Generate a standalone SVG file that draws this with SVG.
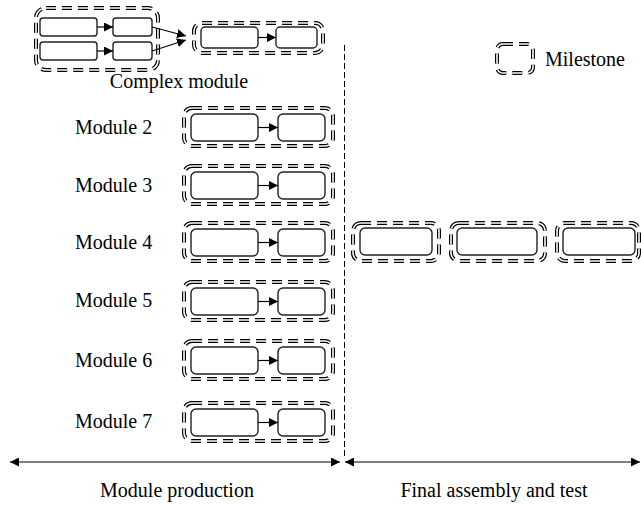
<svg xmlns="http://www.w3.org/2000/svg" width="641" height="505" viewBox="0 0 641 505">
<defs>
<style>
.ms{fill:none;stroke:#000;stroke-width:4;stroke-dasharray:10 6}
.msi{fill:none;stroke:#fff;stroke-width:1.6;stroke-dasharray:10 6}
.task{fill:#fff;stroke:#222;stroke-width:1.4}
.ln{fill:none;stroke:#000;stroke-width:1.2}
.lbl{font-family:"Liberation Serif","Times New Roman",serif;font-size:20px;fill:#000}
</style>
<marker id="ah" viewBox="0 0 10 10" refX="10" refY="5" markerWidth="9" markerHeight="9" markerUnits="userSpaceOnUse" orient="auto"><path d="M0,0 L10,5 L0,10 z" fill="#000"/></marker>
<marker id="ahs" viewBox="0 0 10 10" refX="0" refY="5" markerWidth="9" markerHeight="9" markerUnits="userSpaceOnUse" orient="auto"><path d="M10,0 L0,5 L10,10 z" fill="#000"/></marker>
</defs>
<rect width="641" height="505" fill="#fff"/>

<g id="complex-module">
<rect class="ms" x="36" y="8" width="122" height="62" rx="10"/>
<rect class="msi" x="36" y="8" width="122" height="62" rx="10"/>
<rect class="task" x="40" y="18" width="57" height="18" rx="3"/>
<rect class="task" x="113" y="18" width="39" height="18" rx="3"/>
<rect class="task" x="40" y="42" width="57" height="18" rx="3"/>
<rect class="task" x="113" y="42" width="39" height="18" rx="3"/>
<line class="ln" x1="97" y1="27" x2="113" y2="27" marker-end="url(#ah)"/>
<line class="ln" x1="97" y1="51" x2="113" y2="51" marker-end="url(#ah)"/>
<text class="lbl" x="179" y="88" text-anchor="middle">Complex module</text>
</g>

<g id="complex-final">
<rect class="ms" x="194" y="23" width="129" height="30" rx="8"/>
<rect class="msi" x="194" y="23" width="129" height="30" rx="8"/>
<rect class="task" x="201" y="27" width="57" height="21" rx="4"/>
<rect class="task" x="276" y="27" width="41" height="21" rx="4"/>
<line class="ln" x1="258" y1="37.5" x2="276" y2="37.5" marker-end="url(#ah)"/>
</g>

<g id="module-2">
<text class="lbl" x="75" y="134">Module 2</text>
<rect class="ms" x="184" y="108" width="149" height="38" rx="8"/>
<rect class="msi" x="184" y="108" width="149" height="38" rx="8"/>
<rect class="task" x="191" y="114" width="67" height="27" rx="5"/>
<rect class="task" x="278" y="114" width="47" height="27" rx="5"/>
<line class="ln" x1="258" y1="127.5" x2="278" y2="127.5" marker-end="url(#ah)"/>
</g>

<g id="module-3">
<text class="lbl" x="75" y="192">Module 3</text>
<rect class="ms" x="184" y="166" width="149" height="38" rx="8"/>
<rect class="msi" x="184" y="166" width="149" height="38" rx="8"/>
<rect class="task" x="191" y="172" width="67" height="27" rx="5"/>
<rect class="task" x="278" y="172" width="47" height="27" rx="5"/>
<line class="ln" x1="258" y1="185.5" x2="278" y2="185.5" marker-end="url(#ah)"/>
</g>

<g id="module-4">
<text class="lbl" x="75" y="249">Module 4</text>
<rect class="ms" x="184" y="223" width="149" height="38" rx="8"/>
<rect class="msi" x="184" y="223" width="149" height="38" rx="8"/>
<rect class="task" x="191" y="229" width="67" height="27" rx="5"/>
<rect class="task" x="278" y="229" width="47" height="27" rx="5"/>
<line class="ln" x1="258" y1="242.5" x2="278" y2="242.5" marker-end="url(#ah)"/>
</g>

<g id="module-5">
<text class="lbl" x="75" y="307">Module 5</text>
<rect class="ms" x="184" y="282" width="149" height="38" rx="8"/>
<rect class="msi" x="184" y="282" width="149" height="38" rx="8"/>
<rect class="task" x="191" y="288" width="67" height="27" rx="5"/>
<rect class="task" x="278" y="288" width="47" height="27" rx="5"/>
<line class="ln" x1="258" y1="301.5" x2="278" y2="301.5" marker-end="url(#ah)"/>
</g>

<g id="module-6">
<text class="lbl" x="75" y="367">Module 6</text>
<rect class="ms" x="184" y="341" width="149" height="38" rx="8"/>
<rect class="msi" x="184" y="341" width="149" height="38" rx="8"/>
<rect class="task" x="191" y="347" width="67" height="27" rx="5"/>
<rect class="task" x="278" y="347" width="47" height="27" rx="5"/>
<line class="ln" x1="258" y1="360.5" x2="278" y2="360.5" marker-end="url(#ah)"/>
</g>

<g id="module-7">
<text class="lbl" x="75" y="428">Module 7</text>
<rect class="ms" x="184" y="403" width="149" height="38" rx="8"/>
<rect class="msi" x="184" y="403" width="149" height="38" rx="8"/>
<rect class="task" x="191" y="409" width="67" height="27" rx="5"/>
<rect class="task" x="278" y="409" width="47" height="27" rx="5"/>
<line class="ln" x1="258" y1="422.5" x2="278" y2="422.5" marker-end="url(#ah)"/>
</g>

<g id="final-1">
<rect class="ms" x="353" y="223" width="86" height="38" rx="8"/>
<rect class="msi" x="353" y="223" width="86" height="38" rx="8"/>
<rect class="task" x="360" y="228" width="72" height="27" rx="5"/>
</g>
<g id="final-2">
<rect class="ms" x="451" y="223" width="94" height="38" rx="8"/>
<rect class="msi" x="451" y="223" width="94" height="38" rx="8"/>
<rect class="task" x="457" y="228" width="80" height="27" rx="5"/>
</g>
<g id="final-3">
<rect class="ms" x="557" y="223" width="82" height="38" rx="8"/>
<rect class="msi" x="557" y="223" width="82" height="38" rx="8"/>
<rect class="task" x="563" y="228" width="72" height="27" rx="5"/>
</g>

<g id="legend">
<rect class="ms" x="497" y="44" width="36" height="29" rx="6"/>
<rect class="msi" x="497" y="44" width="36" height="29" rx="6"/>
<text class="lbl" x="545" y="66">Milestone</text>
</g>

<g id="connectors">
<line class="ln" x1="152" y1="27" x2="186" y2="36" marker-end="url(#ah)"/>
<line class="ln" x1="152" y1="51" x2="186" y2="40" marker-end="url(#ah)"/>
<line x1="344.5" y1="45" x2="344.5" y2="458" stroke="#000" stroke-width="1" stroke-dasharray="6 3"/>
<line class="ln" x1="10" y1="462" x2="340" y2="462" marker-start="url(#ahs)" marker-end="url(#ah)"/>
<line class="ln" x1="345" y1="462" x2="640" y2="462" marker-start="url(#ahs)" marker-end="url(#ah)"/>
</g>

<g id="phase-labels">
<text class="lbl" x="177" y="497" text-anchor="middle">Module production</text>
<text class="lbl" x="494" y="497" text-anchor="middle">Final assembly and test</text>
</g>
</svg>
